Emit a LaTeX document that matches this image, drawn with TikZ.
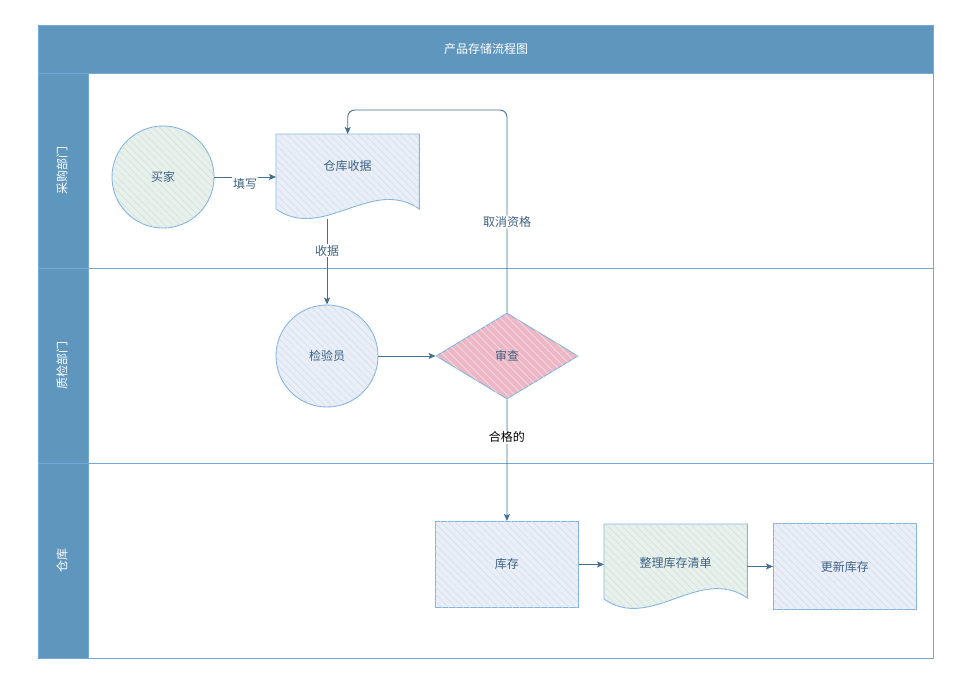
\documentclass[tikz,border=0pt]{standalone}
\usepackage{fontspec}
\setmainfont{Noto Sans CJK SC}
\usetikzlibrary{patterns.meta,arrows.meta,shapes.geometric,calc,backgrounds}
\definecolor{hdr}{HTML}{5F96BD}
\definecolor{laneline}{HTML}{72A9D6}
\definecolor{nborder}{HTML}{82B4DD}
\definecolor{fblue}{HTML}{E9EEF7}
\definecolor{fgreen}{HTML}{E7F1EA}
\definecolor{fpink}{HTML}{EEB7C5}
\definecolor{hatchb}{HTML}{D0DDEF}
\definecolor{hatchg}{HTML}{CEDDE8}
\definecolor{hatchp}{HTML}{F6DCE4}
\definecolor{txt}{HTML}{3F6283}
\definecolor{arrc}{HTML}{44708F}
\tikzset{
  x=1pt, y=-1pt,
  every node/.style={font=\fontsize{12}{14}\selectfont, text=txt},
  bluehatch/.style={fill=fblue, postaction={pattern={Lines[angle=-45,distance=5pt,line width=0.5pt]}, pattern color=hatchb}},
  greenhatch/.style={fill=fgreen, postaction={pattern={Lines[angle=-45,distance=5pt,line width=0.5pt]}, pattern color=hatchg}},
  pinkhatch/.style={fill=fpink, postaction={pattern={Lines[angle=-45,distance=5.5pt,line width=0.7pt]}, pattern color=hatchp}},
  shapeline/.style={draw=nborder, line width=0.9pt},
  circnode/.style={circle, shapeline, minimum size=102pt, inner sep=0pt},
  boxnode/.style={rectangle, shapeline, minimum width=143pt, minimum height=86pt, inner sep=0pt, bluehatch},
  docnode/.style={rectangle, minimum width=143pt, inner sep=0pt},
  arr/.style={draw=arrc, line width=0.9pt, -{Stealth[length=7pt,width=6pt,inset=1.5pt]}},
  elabel/.style={fill=white, inner sep=1pt},
  lanetitle/.style={text=white, rotate=90},
}
\begin{document}
\begin{tikzpicture}
\useasboundingbox (0,0) rectangle (978,689);
% frame and lanes
\fill[hdr] (38,25) rectangle (933,73);
\fill[hdr] (38,73) rectangle (88,658);
\draw[laneline, line width=1pt] (38,25) rectangle (933,658);
\draw[laneline, line width=1pt] (38,73) -- (933,73);
\draw[laneline, line width=1pt] (88,73) -- (88,658);
\draw[laneline, line width=1pt] (38,268) -- (933,268);
\draw[laneline, line width=1pt] (38,463) -- (933,463);
\node[text=white] (title) at (486,49) {产品存储流程图};
\node[lanetitle] (lane1) at (62,170) {采购部门};
\node[lanetitle] (lane2) at (62,365) {质检部门};
\node[lanetitle] (lane3) at (62,560) {仓库};

% nodes
\node[circnode, greenhatch] (buyer) at (163,177) {买家};
\node[docnode, minimum height=64pt, anchor=north west] (rcpt) at (276,134) {仓库收据};
\begin{scope}[on background layer]
\path[shapeline, bluehatch] (rcpt.north west) -- (rcpt.north east) -- ++(0,75)
  .. controls +(-48,-33) and +(47,33) .. ($(rcpt.north west)+(0,75)$) -- cycle;
\end{scope}
\node[circnode, bluehatch] (insp) at (327,356) {检验员};
\node[diamond, shapeline, pinkhatch, minimum width=142pt, minimum height=86pt, inner sep=0pt] (review) at (507,356) {审查};
\node[boxnode, anchor=north west] (store) at (435,521) {库存};
\node[docnode, minimum height=78pt, anchor=north west] (sort) at (604,524) {整理库存清单};
\begin{scope}[on background layer]
\path[shapeline, greenhatch] (sort.north west) -- (sort.north east) -- ++(0,74)
  .. controls +(-48,-33) and +(47,33) .. ($(sort.north west)+(0,75)$) -- cycle;
\end{scope}
\node[boxnode, anchor=north west] (upd) at (773,523) {更新库存};

% connectors
\draw[arr] (buyer.east) -- (rcpt.west |- buyer.east) node[elabel, pos=0.5, yshift=-7pt] {填写};
\coordinate (rcptb) at (327,219);
\draw[arr] (rcptb) -- (insp.north) node[elabel, pos=0.37] {收据};
\draw[arr] (insp.east) -- (review.west);
\draw[arr, rounded corners=7pt] (review.north) -- (review.north |- 0,110) node[elabel, pos=0.448] {取消资格} -| (rcpt.north);
\draw[arr] (review.south) -- (store.north) node[elabel, pos=0.31, text=black] {合格的};
\draw[arr] (store.east) -- (store.east -| sort.west);
\draw[arr] (upd.west -| sort.east) -- (upd.west);
\end{tikzpicture}
\end{document}
